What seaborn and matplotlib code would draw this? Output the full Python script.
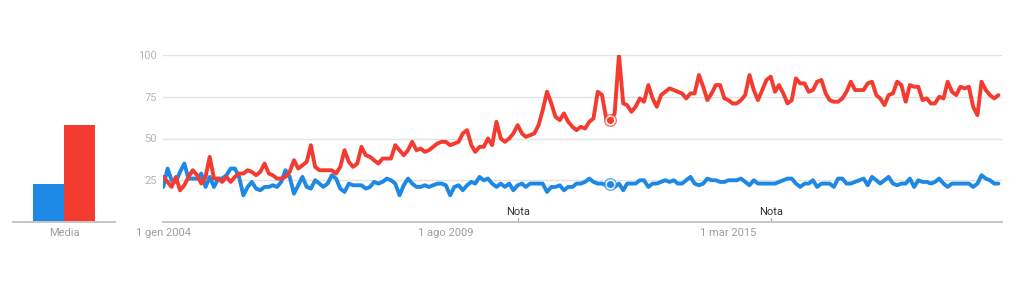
import numpy as np
import pandas as pd
import matplotlib
matplotlib.use("Agg")
import matplotlib.pyplot as plt
import seaborn as sns

# ---- data (monthly, Jan 2004 - Jul 2020) ----
red_values = [27, 24, 21, 27, 19, 22, 27, 31, 28, 23, 27, 39, 26, 26, 24, 27, 24, 27, 29, 29,
              31, 30, 28, 30, 35, 29, 28, 26, 26, 27, 30, 37, 32, 34, 36, 46, 33, 31, 31, 31,
              31, 29, 33, 43, 36, 33, 35, 45, 40, 39, 37, 35, 38, 38, 38, 46, 43, 40, 43, 48,
              43, 44, 42, 43, 45, 47, 48, 48, 46, 47, 48, 53, 55, 46, 42, 45, 45, 50, 46, 60,
              50, 48, 50, 53, 58, 53, 51, 52, 53, 58, 67, 78, 71, 63, 61, 65, 60, 57, 55, 57,
              56, 60, 62, 78, 76, 62, 61, 65, 100, 71, 70, 66, 69, 74, 72, 82, 74, 69, 76, 78,
              80, 79, 78, 77, 74, 77, 77, 88, 81, 73, 77, 82, 82, 74, 73, 71, 71, 73, 76, 88,
              79, 73, 79, 85, 87, 78, 82, 77, 71, 73, 86, 83, 83, 78, 79, 84, 85, 77, 73, 72,
              72, 74, 78, 84, 79, 79, 79, 83, 84, 76, 74, 70, 76, 77, 84, 82, 72, 82, 81, 81,
              73, 74, 71, 71, 75, 74, 84, 78, 76, 81, 80, 81, 69, 64, 84, 79, 76, 74, 76]
blue_values = [21, 32, 25, 24, 30, 35, 26, 26, 26, 29, 21, 27, 21, 26, 26, 28, 32, 32, 27, 16,
               21, 24, 20, 19, 21, 21, 22, 21, 24, 31, 27, 17, 22, 27, 21, 20, 25, 23, 21, 23,
               28, 26, 20, 18, 23, 22, 22, 22, 20, 21, 24, 23, 24, 26, 25, 23, 16, 22, 26, 23,
               21, 21, 22, 21, 22, 23, 23, 22, 16, 21, 22, 19, 22, 24, 23, 27, 25, 26, 23, 21,
               23, 21, 23, 19, 22, 23, 21, 23, 23, 23, 23, 18, 21, 21, 22, 19, 21, 21, 23, 23,
               24, 26, 24, 23, 23, 22, 23, 21, 23, 19, 23, 23, 23, 25, 25, 21, 23, 23, 24, 25,
               24, 25, 23, 23, 25, 27, 23, 22, 23, 26, 25, 25, 24, 24, 25, 25, 25, 26, 24, 22,
               25, 23, 23, 23, 23, 23, 24, 25, 26, 26, 23, 21, 23, 23, 25, 21, 23, 23, 23, 21,
               26, 26, 23, 23, 24, 25, 26, 22, 27, 25, 23, 25, 27, 23, 22, 23, 23, 26, 21, 25,
               24, 24, 23, 24, 26, 23, 21, 23, 23, 23, 23, 23, 21, 23, 28, 26, 25, 23, 23]
series_names = ["Termine A", "Termine B"]
avg_values = [23, 58]
bar_category = "Media"
y_ticks = [25, 50, 75, 100]
x_tick_dates = ["2004-01-01", "2009-08-01", "2015-03-01"]
x_tick_labels = ["1 gen 2004", "1 ago 2009", "1 mar 2015"]
note_dates = ["2011-01-01", "2016-01-01"]
note_label = "Nota"
marker_date = "2012-11-01"

BLUE = "#1E88E5"
RED = "#F33B30"
palette = {series_names[0]: BLUE, series_names[1]: RED}

sns.set_theme(style="white")
plt.rcParams["font.family"] = ["Roboto", "DejaVu Sans"]

dates = pd.date_range("2004-01-01", periods=len(red_values), freq="MS")
df = pd.concat([
    pd.DataFrame({"date": dates, "value": blue_values, "term": series_names[0]}),
    pd.DataFrame({"date": dates, "value": red_values, "term": series_names[1]}),
])

fig = plt.figure(figsize=(10.24, 3.01), dpi=100)
ax = fig.add_axes([163 / 1024, 1 - 222 / 301, 839 / 1024, 167 / 301])
axb = fig.add_axes([13 / 1024, 1 - 222 / 301, 102 / 1024, 167 / 301])

FS = 8

# ---- main line chart ----
sns.lineplot(data=df, x="date", y="value", hue="term", palette=palette,
             linewidth=2.8, ax=ax, legend=False, solid_joinstyle="round",
             solid_capstyle="round")
ax.set_ylim(0, 100)
ax.set_xlim(dates[0] - pd.Timedelta(days=2), dates[-1] + pd.Timedelta(days=26))
for s in ["top", "right", "left"]:
    ax.spines[s].set_visible(False)
ax.spines["bottom"].set_color("#c6c6c6")
ax.spines["bottom"].set_linewidth(1.4)
ax.set_yticks(y_ticks)
ax.set_yticklabels([str(v) for v in y_ticks])
for v in y_ticks:
    ax.axhline(v, color="#e3e3e3", lw=1.0, zorder=0)
ax.tick_params(axis="y", length=0, pad=4.5, labelsize=FS, labelcolor="#b5b5b5")
ax.set_xticks(pd.to_datetime(x_tick_dates))
ax.set_xticklabels(x_tick_labels)
ax.tick_params(axis="x", length=0, pad=4, labelsize=FS, labelcolor="#9e9e9e")
ax.set_xlabel("")
ax.set_ylabel("")

for nd in pd.to_datetime(note_dates):
    ax.plot([nd, nd], [0, 2.2], color="#9e9e9e", lw=0.8, clip_on=False)
    ax.text(nd, 3.2, note_label, ha="center", va="bottom", fontsize=FS, color="#333333")

md = pd.Timestamp(marker_date)
idx = list(dates).index(md)
for vals, col in [(red_values, RED), (blue_values, BLUE)]:
    ax.scatter([md], [vals[idx]], s=70, facecolor="white", edgecolor=col,
               linewidth=1.0, alpha=0.7, zorder=5)
    ax.scatter([md], [vals[idx]], s=16, color=col, zorder=6)

# ---- average bars ----
bdf = pd.DataFrame({"cat": [bar_category] * 2, "value": avg_values, "term": series_names})
sns.barplot(data=bdf, x="cat", y="value", hue="term", palette=palette, ax=axb,
            width=0.8, legend=False, saturation=1)
axb.set_ylim(0, 100)
axb.set_xlim(-0.658, 0.658)
for s in ["top", "right", "left"]:
    axb.spines[s].set_visible(False)
axb.spines["bottom"].set_color("#c6c6c6")
axb.spines["bottom"].set_linewidth(1.4)
axb.set_yticks([])
axb.tick_params(axis="x", length=0, pad=4, labelsize=FS, labelcolor="#9e9e9e")
axb.set_xlabel("")
axb.set_ylabel("")
for p in axb.patches:
    p.set_edgecolor("none")

fig.savefig("out.png", dpi=100, facecolor="white")
